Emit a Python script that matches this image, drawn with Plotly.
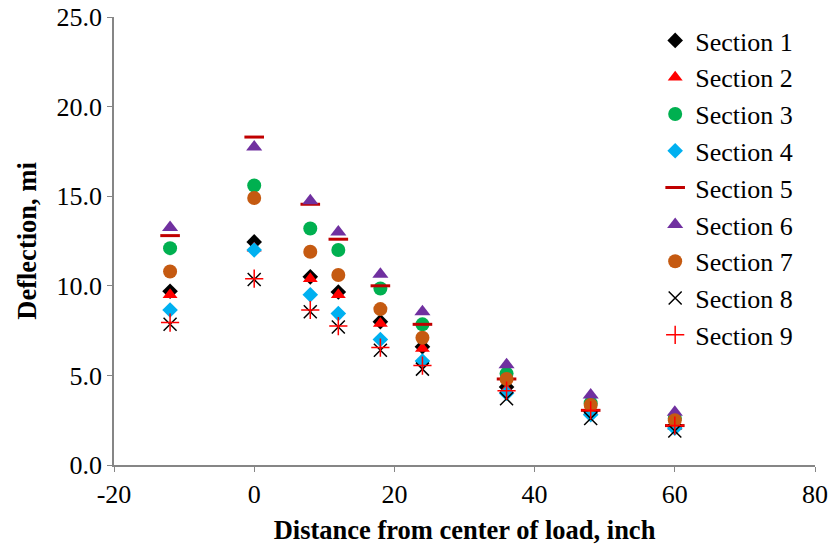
import plotly.graph_objects as go

distance = [-12, 0, 8, 12, 18, 24, 36, 48, 60]
sec1 = [9.7, 12.45, 10.5, 9.65, 8.0, 6.6, 4.35, 3.0, 2.15]
sec2 = [9.5, 12.1, 10.4, 9.5, 7.9, 6.5, 4.2, 3.0, 2.15]
sec3 = [12.1, 15.6, 13.2, 12.0, 9.85, 7.85, 5.1, 3.45, 2.6]
sec4 = [8.65, 12.0, 9.5, 8.45, 7.0, 5.8, 4.0, 2.8, 2.05]
sec5 = [12.8, 18.3, 14.55, 12.6, 10.0, 7.85, 4.8, 3.05, 2.2]
sec6 = [13.25, 17.75, 14.75, 13.0, 10.65, 8.55, 5.6, 3.9, 2.95]
sec7 = [10.8, 14.9, 11.9, 10.6, 8.7, 7.1, 4.8, 3.35, 2.5]
sec8 = [7.85, 10.35, 8.55, 7.7, 6.4, 5.35, 3.7, 2.6, 1.9]
sec9 = [7.95, 10.4, 8.65, 7.75, 6.55, 5.55, 4.15, 3.05, 2.2]

x_tickvals = [-20, 0, 20, 40, 60, 80]
x_ticktext = ["-20", "0", "20", "40", "60", "80"]

names = ["Section 1", "Section 2", "Section 3", "Section 4", "Section 5",
         "Section 6", "Section 7", "Section 8", "Section 9"]
series = [sec1, sec2, sec3, sec4, sec5, sec6, sec7, sec8, sec9]

styles = [
    dict(symbol="diamond", color="#000000", size=12),
    dict(symbol="triangle-up", color="#FF0000", size=13),
    dict(symbol="circle", color="#00B050", size=14),
    dict(symbol="diamond", color="#00B0F0", size=12),
    dict(symbol="line-ew", color="#C00000", size=14, line=dict(width=3, color="#C00000")),
    dict(symbol="triangle-up", color="#7030A0", size=14),
    dict(symbol="circle", color="#C55A11", size=14),
    dict(symbol="x-thin", color="#000000", size=13, line=dict(width=1.5, color="#000000")),
    dict(symbol="cross-thin", color="#FF0000", size=13, line=dict(width=1.5, color="#FF0000")),
]

fig = go.Figure()
for n, s, st in zip(names, series, styles):
    fig.add_trace(go.Scatter(x=distance, y=s, mode="markers", name=n, marker=st))

font = "Liberation Serif, Times New Roman, serif"
fs = 26
fig.update_layout(
    width=831, height=546,
    margin=dict(l=114, r=16, t=17, b=81, autoexpand=False),
    plot_bgcolor="white", paper_bgcolor="white",
    font=dict(family=font, size=fs, color="black"),
    showlegend=True,
    legend=dict(x=0.772, y=1.0, xanchor="left", yanchor="top",
                font=dict(family=font, size=fs, color="black"),
                bgcolor="rgba(0,0,0,0)", itemwidth=30, tracegroupgap=0),
    xaxis=dict(range=[-20, 80], tickvals=x_tickvals, ticktext=x_ticktext,
               showgrid=False, zeroline=False, ticklabeloverflow="allow",
               showline=True, linecolor="#868686", linewidth=1.5,
               ticks="outside", ticklen=5, tickcolor="#868686",
               title=dict(text="<b>Distance from center of load, inch</b>",
                          font=dict(family=font, size=26.5), standoff=12),
               tickfont=dict(family=font, size=fs)),
    yaxis=dict(range=[0, 25], dtick=5, tickformat=".1f", showgrid=False, zeroline=False,
               ticklabeloverflow="allow",
               showline=True, linecolor="#868686", linewidth=1.5,
               ticks="outside", ticklen=5, tickcolor="#868686",
               title=dict(text="<b>Deflection, mi</b>",
                          font=dict(family=font, size=26.5), standoff=12),
               tickfont=dict(family=font, size=fs)),
)

# remove the browser's default 8px page margin so the figure fills the window
fig.write_html("out.html",
               config={"displayModeBar": False},
               post_script="document.body.style.margin='0';document.body.style.overflow='hidden';")
